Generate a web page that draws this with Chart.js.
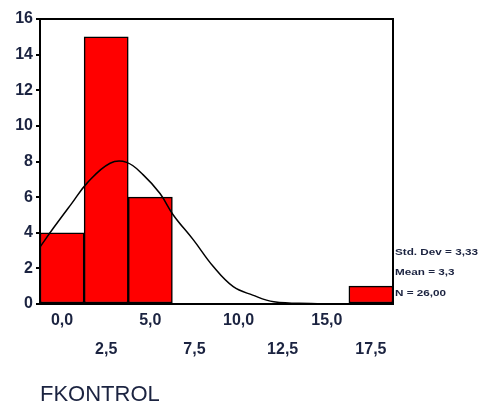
<!DOCTYPE html>
<html>
<head>
<meta charset="utf-8">
<script src="https://cdn.jsdelivr.net/npm/chart.js@4"></script>
<style>
  html, body { margin: 0; padding: 0; background: #fff; }
  #wrap { width: 481px; height: 408px; }
</style>
</head>
<body>
<div id="wrap"><canvas id="c" width="481" height="408"></canvas></div>
<script>
// ---- data ----
const binCenters = [0, 2.5, 5, 7.5, 10, 12.5, 15, 17.5];
const counts = [4, 15, 6, 0, 0, 0, 0, 1];
const xTickLabels = ['0,0', '2,5', '5,0', '7,5', '10,0', '12,5', '15,0', '17,5'];
const yTickValues = [0, 2, 4, 6, 8, 10, 12, 14, 16];
// normal curve
const curveX = [-1.25, -0.5, 0.55, 1.43, 2.72, 3.66, 4.6, 5.55, 6.3, 7.44, 8.57, 9.7, 10.8, 12.0, 14.1, 16.0, 18.75];
const curveY = [3.2, 4.25, 5.65, 6.8, 7.9, 7.95, 7.25, 6.2, 5.0, 3.6, 2.1, 0.97, 0.5, 0.13, 0.03, 0.0, 0.0];
const statLabels = ['Std. Dev = 3,33', 'Mean = 3,3', 'N = 26,00'];
const axisTitle = 'FKONTROL';

const textColor = '#1b2340';
const fontFam = '"Liberation Sans", Arial, sans-serif';

const framePlugin = {
  id: 'frame',
  afterDraw(chart) {
    const { ctx, chartArea: a } = chart;
    ctx.save();
    ctx.strokeStyle = '#000';
    ctx.lineWidth = 2;
    ctx.strokeRect(a.left, a.top, a.right - a.left, a.bottom - a.top);
    ctx.fillStyle = textColor;
    ctx.font = 'bold 9px ' + fontFam;
    ctx.textBaseline = 'middle';
    ctx.textAlign = 'left';
    const ys = [253, 273, 294];
    statLabels.forEach((t, i) => {
      ctx.save();
      ctx.translate(a.right + 2, ys[i]);
      ctx.scale(1.3, 1);
      ctx.fillText(t, 0, 0);
      ctx.restore();
    });
    ctx.restore();
  }
};

new Chart(document.getElementById('c'), {
  type: 'bar',
  data: {
    datasets: [
      {
        type: 'line',
        data: curveX.map((x, i) => ({ x, y: curveY[i] })),
        borderColor: '#000',
        borderWidth: 1.5,
        pointRadius: 0,
        tension: 0.4,
        fill: false,
        order: 0
      },
      {
        type: 'bar',
        data: binCenters.map((x, i) => ({ x, y: counts[i] })),
        backgroundColor: '#ff0000',
        borderColor: '#000',
        borderWidth: (c) => (c.raw && c.raw.y === 0 ? 0 : 1.5),
        borderSkipped: false,
        barPercentage: 1,
        categoryPercentage: 1,
        grouped: false,
        order: 1
      }
    ]
  },
  options: {
    responsive: false,
    animation: false,
    devicePixelRatio: 1,
    layout: { padding: { left: 0, right: 88, top: 19, bottom: 0 } },
    plugins: { legend: { display: false }, tooltip: { enabled: false } },
    scales: {
      x: {
        type: 'linear',
        offset: false,
        min: -1.25,
        max: 18.75,
        afterBuildTicks: (s) => { s.ticks = binCenters.map(v => ({ value: v })); },
        afterFit: (s) => { s.height = 104; },
        grid: { display: false, drawTicks: false, offset: false },
        border: { color: '#000', width: 2 },
        ticks: {
          autoSkip: false,
          maxRotation: 0,
          padding: 2.5,
          color: textColor,
          font: { family: fontFam, size: 16, weight: 'bold', lineHeight: 29 / 16 },
          callback: (v, i) => (i % 2 === 0 ? xTickLabels[i] : ['', xTickLabels[i]])
        },
        title: {
          display: true,
          text: axisTitle,
          align: 'start',
          color: textColor,
          font: { family: fontFam, size: 22, weight: 'normal', lineHeight: 1.2 },
          padding: { top: 0, bottom: 0 }
        }
      },
      y: {
        min: 0,
        max: 16,
        afterBuildTicks: (s) => { s.ticks = yTickValues.map(v => ({ value: v })); },
        afterFit: (s) => { s.width = 40; },
        grid: { display: true, drawOnChartArea: false, drawTicks: true, tickLength: 4, color: '#000', lineWidth: 2 },
        border: { color: '#000', width: 2 },
        ticks: {
          padding: 3,
          color: textColor,
          font: { family: fontFam, size: 16, weight: 'bold' }
        }
      }
    }
  },
  plugins: [framePlugin]
});
</script>
</body>
</html>
